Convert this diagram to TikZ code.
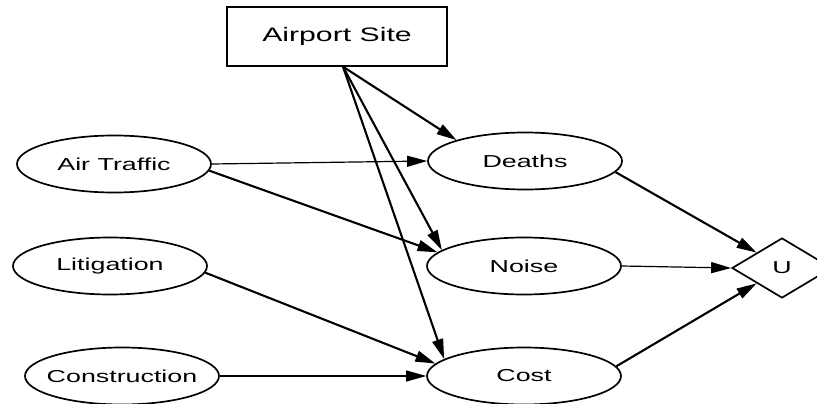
\documentclass[tikz,border=0pt]{standalone}
\usepackage{fontspec}
\setmainfont{Liberation Sans}[FakeStretch=1.55]
\usetikzlibrary{shapes.geometric,arrows.meta}

\tikzset{
  chance/.style={ellipse, draw, line width=1.7pt, minimum width=194pt,
    minimum height=57pt, inner sep=0pt, font=\fontsize{17.3}{20}\selectfont},
  decision/.style={rectangle, draw, line width=1.4pt, minimum width=220pt,
    minimum height=59pt, inner sep=0pt, font=\fontsize{19.5}{22}\selectfont},
  utility/.style={diamond, draw, line width=1.7pt, minimum width=100pt,
    minimum height=60pt, inner sep=0pt, font=\fontsize{17.3}{20}\selectfont},
  link/.style={line width=2.1pt, -{Triangle[length=20pt,width=11pt]}},
  thinlink/.style={line width=1.2pt, -{Triangle[length=20pt,width=11pt]}},
}

\begin{document}
\begin{tikzpicture}[x=1pt,y=-1pt]
  \clip (0,0) rectangle (817,404);

  % decision node
  \node[decision] (site) at (337,36.5) {\makebox[0pt]{Airport Site}};

  % chance nodes, left column
  \node[chance] (traffic) at (114,164) {\makebox[0pt]{Air Traffic}};
  \node[chance] (litig)   at (110,266) {\makebox[0pt]{Litigation}};
  \node[chance] (constr)  at (122,376) {\makebox[0pt]{Construction}};

  % chance nodes, middle column
  \node[chance] (deaths) at (525,161) {\makebox[0pt]{Deaths}};
  \node[chance] (noise)  at (524,266) {\makebox[0pt]{Noise}};
  \node[chance] (cost)   at (524,376) {\makebox[0pt]{Cost}};

  % utility node
  \node[utility] (u) at (782,268) {\makebox[0pt]{U}};

  % anchor point on the decision box
  \coordinate (sitefoot) at ([xshift=6pt]site.south);

  % arcs out of the decision
  \draw[link] (sitefoot) -- (deaths.163);
  \draw[link] (sitefoot) -- (noise.169);
  \draw[link] (sitefoot) -- (cost.168);

  % arcs from the left column
  \draw[thinlink] (traffic.east) -- (deaths.west);
  \draw[link] (traffic.-4) -- (noise.171);
  \draw[link] (litig.-4) -- (cost.172);
  \draw[thinlink] (constr.east) -- (cost.west);

  % arcs into the utility
  \draw[link] (deaths.-7) -- (u.north west);
  \draw[thinlink] (noise.east) -- (u.west);
  \draw[link] (cost.6) -- (u.south west);
\end{tikzpicture}
\end{document}
